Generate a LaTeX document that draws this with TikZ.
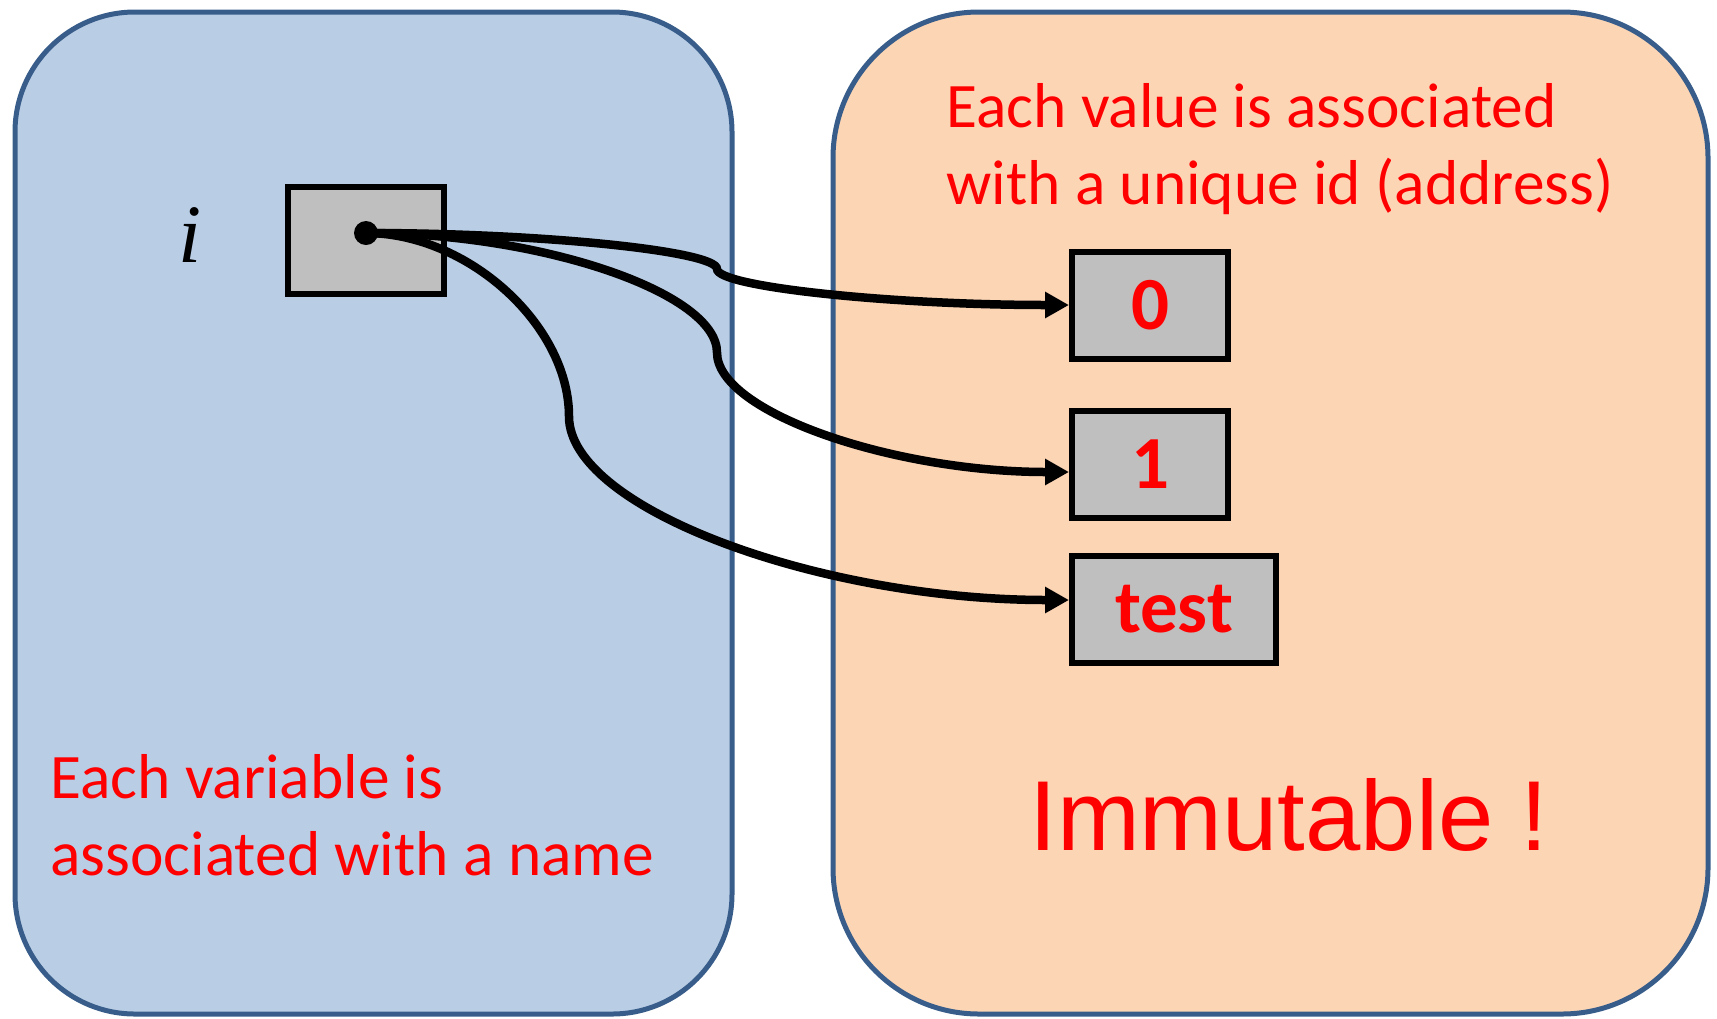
\documentclass[tikz,border=0pt]{standalone}
\usepackage{fontspec}
\setmainfont{Carlito}
\newfontfamily\arialfont{Liberation Sans}
\newfontfamily\timesfont{Liberation Serif}
\usetikzlibrary{arrows.meta}
\definecolor{nameblue}{HTML}{B9CDE5}
\definecolor{valorange}{HTML}{FCD5B5}
\definecolor{panelline}{HTML}{385D8A}
\definecolor{cellgray}{HTML}{BFBFBF}
\definecolor{notered}{HTML}{FF0000}

\begin{document}
\begin{tikzpicture}[x=0.5pt,y=-0.5pt,
  panel/.style={draw=panelline,line width=2.5pt},
  cell/.style={draw=black,fill=cellgray,line width=3pt,minimum height=53.5pt,
    minimum width=78pt,inner sep=0pt,text=notered,font=\fontsize{37.5}{37.5}\selectfont\bfseries},
  note/.style={text=notered,font=\fontsize{31.7}{38}\selectfont,anchor=base west,inner sep=0pt},
  link/.style={line width=4.25pt,-{Triangle[length=12pt,width=12.5pt]}}]
\useasboundingbox (0,0) rectangle (1717,1018);

% namespace and object space
\path[panel,fill=nameblue,rounded corners=60pt] (15,12) rectangle (732,1014);
\path[panel,fill=valorange,rounded corners=73pt] (833,12) rectangle (1708,1014);

% variable
\node[font=\timesfont\itshape\fontsize{41.5}{41.5}\selectfont,anchor=base,inner sep=0pt] (varname) at (190,262) {i};
\node[cell] (var) at (366,240.5) {};
\node[circle,fill=black,minimum size=12pt,inner sep=0pt] (dot) at (366,233) {};

% objects
\node[cell] (zero) at (1150,305) {0};
\node[cell] (one) at (1150,464.5) {1};
\node[cell,minimum width=102pt] (test) at (1174,609.5) {test};

% references
\draw[link] (dot.center) .. controls (541.5,233) and (717,251) .. (717,269)
  .. controls (717,287) and (893,305) .. (zero.west);
\draw[link] (dot.center) .. controls (541.5,233) and (717,292.75) .. (717,352.5)
  .. controls (717,412.25) and (893,472) .. ([yshift=-3.75pt]one.west);
\draw[link] (dot.center) .. controls (467.5,233) and (569,324.75) .. (569,416.5)
  .. controls (569,508.25) and (819,600) .. ([yshift=4.75pt]test.west);

% notes
\node[note] (val1) at (946,127) {Each value is associated};
\node[note] (val2) at (946,204) {with a unique id (address)};
\node[note] (var1) at (50,798) {Each variable is};
\node[note] (var2) at (50,875) {associated with a name};
\node[anchor=base west,inner sep=0pt,text=notered,font=\arialfont\fontsize{49.7}{49.7}\selectfont] (immut) at (1029,850) {Immutable !};
\end{tikzpicture}
\end{document}
